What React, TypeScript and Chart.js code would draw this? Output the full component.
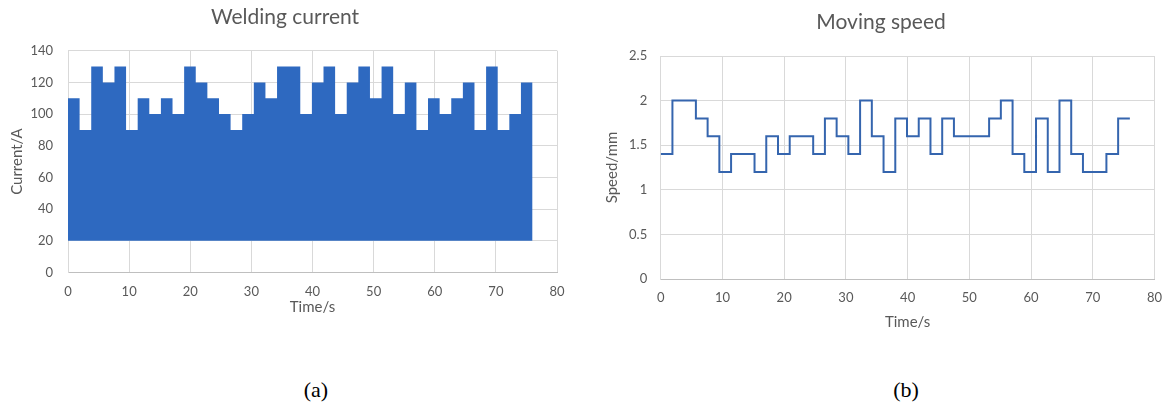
import React, { useEffect, useRef } from "react";
import { Chart, registerables } from "chart.js";

Chart.register(...registerables);

// Step start times (s) shared by both recordings, and the end of the last step
const stepStartTimes = [
  0, 1.9, 3.8, 5.7, 7.6, 9.5, 11.4, 13.3, 15.2, 17.1,
  19, 20.9, 22.8, 24.7, 26.6, 28.5, 30.4, 32.3, 34.2, 36.1,
  38, 39.9, 41.8, 43.7, 45.6, 47.5, 49.4, 51.3, 53.2, 55.1,
  57, 58.9, 60.8, 62.7, 64.6, 66.5, 68.4, 70.3, 72.2, 74.1,
];
const endTime = 76;

// (a) Welding current, A (filled from the 20 A base)
const currentValues = [
  110, 90, 130, 120, 130, 90, 110, 100, 110, 100,
  130, 120, 110, 100, 90, 100, 120, 110, 130, 130,
  100, 120, 130, 100, 120, 130, 110, 130, 100, 120,
  90, 110, 100, 110, 120, 90, 130, 90, 100, 120,
];
const currentBase = 20;

// (b) Moving speed
const speedValues = [
  1.4, 2.0, 2.0, 1.8, 1.6, 1.2, 1.4, 1.4, 1.2, 1.6,
  1.4, 1.6, 1.6, 1.4, 1.8, 1.6, 1.4, 2.0, 1.6, 1.2,
  1.8, 1.6, 1.8, 1.4, 1.8, 1.6, 1.6, 1.6, 1.8, 2.0,
  1.4, 1.2, 1.8, 1.2, 2.0, 1.4, 1.2, 1.2, 1.4, 1.8,
];

const titles = ["Welding current", "Moving speed"];
const xAxisTitle = "Time/s";
const yAxisTitles = ["Current/A", "Speed/mm"];
const captions = ["(a)", "(b)"];

const TEXT = "#595959";
const GRID = "#D9D9D9";
const AXIS = "#BFBFBF";
const FONT = "Lato, 'Open Sans', sans-serif";

function stepPoints(values: number[]) {
  const pts = values.map((v, i) => ({ x: stepStartTimes[i], y: v }));
  pts.push({ x: endTime, y: values[values.length - 1] });
  return pts;
}

type Geo = {
  padL: number;
  padR: number;
  titleTop: number;
  titleBottom: number;
  xAxisHeight: number;
  xTickPad: number;
  xTitleBottom: number;
  yAxisWidth: number;
  yTickPad: number;
  yTitlePad: number;
};

function baseOptions(idx: number, g: Geo, yMin: number, yMax: number, yStep: number): any {
  return {
    responsive: false,
    animation: false,
    devicePixelRatio: 1,
    layout: { padding: { left: g.padL, right: g.padR, top: 0, bottom: 0 } },
    plugins: {
      legend: { display: false },
      tooltip: { enabled: false },
      title: {
        display: true,
        text: titles[idx],
        color: TEXT,
        font: { family: FONT, size: 21, weight: "normal", lineHeight: 1.2 },
        padding: { top: g.titleTop, bottom: g.titleBottom },
      },
    },
    scales: {
      x: {
        type: "linear",
        min: 0,
        max: 80,
        ticks: {
          stepSize: 10,
          color: TEXT,
          font: { family: FONT, size: 13, lineHeight: 1.2 },
          padding: g.xTickPad,
          maxRotation: 0,
        },
        grid: { color: GRID, drawTicks: false, lineWidth: 1 },
        border: { color: AXIS, width: 1 },
        title: {
          display: true,
          text: xAxisTitle,
          color: TEXT,
          font: { family: FONT, size: 15, lineHeight: 1.2 },
          padding: { top: 0, bottom: g.xTitleBottom },
        },
        afterFit: (s: any) => {
          s.height = g.xAxisHeight;
        },
      },
      y: {
        type: "linear",
        min: yMin,
        max: yMax,
        ticks: {
          stepSize: yStep,
          color: TEXT,
          font: { family: FONT, size: 13, lineHeight: 1.2 },
          padding: g.yTickPad,
          callback: (v: any) => String(v),
        },
        grid: { color: GRID, drawTicks: false, lineWidth: 1 },
        border: { color: GRID, width: 1 },
        title: {
          display: true,
          text: yAxisTitles[idx],
          color: TEXT,
          font: { family: FONT, size: 15, lineHeight: 1.2 },
          padding: { top: g.yTitlePad, bottom: 0 },
        },
        afterFit: (s: any) => {
          s.width = g.yAxisWidth;
        },
      },
    },
  };
}

function ChartCanvas({ config, width, height, left, top }: any) {
  const ref = useRef<HTMLCanvasElement | null>(null);
  useEffect(() => {
    if (!ref.current) return;
    const chart = new Chart(ref.current, config);
    return () => chart.destroy();
  }, []);
  return (
    <canvas
      ref={ref}
      width={width}
      height={height}
      style={{ position: "absolute", left, top, width, height }}
    />
  );
}

const geoA: Geo = {
  padL: 13,
  padR: 33,
  titleTop: 4.4,
  titleBottom: 21.1,
  xAxisHeight: 57.5,
  xTickPad: 11.4,
  xTitleBottom: 14,
  yAxisWidth: 55,
  yTickPad: 15,
  yTitlePad: -5,
};

const geoB: Geo = {
  padL: 17,
  padR: 18,
  titleTop: 9.4,
  titleBottom: 21.4,
  xAxisHeight: 61,
  xTickPad: 10.9,
  xTitleBottom: 9,
  yAxisWidth: 53.7,
  yTickPad: 13.5,
  yTitlePad: -4,
};

const configA: any = {
  type: "line",
  data: {
    datasets: [
      {
        data: stepPoints(currentValues),
        stepped: "before",
        fill: { value: currentBase },
        backgroundColor: "#2E69C0",
        borderColor: "rgba(0,0,0,0)",
        borderWidth: 0,
        pointRadius: 0,
      },
    ],
  },
  options: baseOptions(0, geoA, 0, 140, 20),
};

const configB: any = {
  type: "line",
  data: {
    datasets: [
      {
        data: stepPoints(speedValues),
        stepped: "before",
        fill: false,
        borderColor: "#3565AE",
        borderWidth: 2,
        pointRadius: 0,
      },
    ],
  },
  options: baseOptions(1, geoB, 0, 2.5, 0.5),
};

export default function App() {
  const captionStyle: any = {
    position: "absolute",
    top: 377,
    width: 60,
    textAlign: "center",
    fontFamily: "'Liberation Serif', 'Times New Roman', serif",
    fontSize: 22,
    lineHeight: "26px",
    color: "#000",
  };
  return (
    <div
      style={{
        position: "absolute",
        left: 0,
        top: 0,
        width: 1173,
        height: 409,
        background: "#fff",
        overflow: "hidden",
      }}
    >
      <ChartCanvas config={configA} width={590} height={330} left={0} top={0} />
      <ChartCanvas config={configB} width={583} height={340} left={590} top={0} />
      <div style={{ ...captionStyle, left: 316 - 30 }}>{captions[0]}</div>
      <div style={{ ...captionStyle, left: 906 - 30 }}>{captions[1]}</div>
    </div>
  );
}
